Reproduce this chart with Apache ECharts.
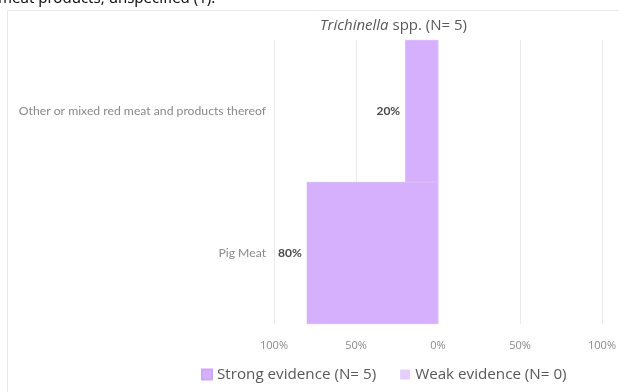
<!DOCTYPE html>
<html><head><meta charset="utf-8">
<script src="https://cdn.jsdelivr.net/npm/echarts@6/dist/echarts.min.js"></script>
<style>html,body{margin:0;padding:0;background:#fff}#c{width:619px;height:392px}</style>
</head><body><div id="c"></div>
<script>
var categories = ['Other or mixed red meat and products thereof', 'Pig Meat'];
var strongValues = [20, 80];
var weakValues = [0, 0];
var tickLabels = ['100%', '50%', '0%', '50%', '100%'];
var seriesNames = ['Strong evidence (N= 5)', 'Weak evidence (N= 0)'];

var chart = echarts.init(document.getElementById('c'), null, {renderer: 'canvas'});
chart.setOption({
  backgroundColor: '#fff',
  animation: false,
  graphic: [
    {type: 'rect', shape: {x: 7.5, y: 10.5, width: 640, height: 400}, style: {fill: 'none', stroke: '#e8e8e8', lineWidth: 1}},
    {type: 'text', left: -2, top: -9, style: {text: 'meat products, unspecified (1).', font: '15px "Noto Sans"', fill: '#111'}}
  ],
  title: {
    text: '{i|Trichinella} spp. (N= 5)',
    left: 315, top: 13,
    textStyle: {
      fontFamily: 'Open Sans', fontSize: 15, fontWeight: 'normal', color: '#595959',
      rich: {i: {fontFamily: 'Open Sans', fontSize: 15, fontStyle: 'italic', color: '#595959'}}
    }
  },
  legend: {
    bottom: 5, left: 196,
    itemWidth: 10, itemHeight: 10, itemGap: 24,
    icon: 'rect',
    textStyle: {fontFamily: 'Open Sans', fontSize: 15.2, color: '#595959'},
    data: seriesNames
  },
  grid: {left: 274, right: 12, top: 40, bottom: 68, containLabel: false},
  xAxis: {
    type: 'value', min: -100, max: 100, interval: 50,
    axisLine: {show: false}, axisTick: {show: false},
    splitLine: {lineStyle: {color: '#ebebeb'}},
    axisLabel: {
      fontFamily: 'Open Sans', fontSize: 11, color: '#8a8a8a', margin: 16,
      formatter: function (v) { return tickLabels[Math.round((v + 100) / 50)]; }
    }
  },
  yAxis: {
    type: 'category', inverse: true, data: categories,
    axisLine: {show: false}, axisTick: {show: false},
    axisLabel: {fontFamily: 'Lato', fontSize: 12.2, color: '#8a8a8a', margin: 8}
  },
  series: [
    {
      name: seriesNames[0], type: 'bar', stack: 'a', barWidth: '100%',
      data: strongValues.map(function (v) { return -v; }),
      itemStyle: {color: '#d6b0fc', borderColor: '#cfa8f5', borderWidth: 0.5},
      label: {
        show: true, position: 'left', distance: 5,
        fontFamily: 'Lato', fontSize: 12, fontWeight: 'bold', color: '#4a4a4a',
        formatter: function (p) { return Math.abs(p.value) + '%'; }
      }
    },
    {
      name: seriesNames[1], type: 'bar', stack: 'a', barWidth: '100%',
      data: weakValues.map(function (v) { return -v; }),
      itemStyle: {color: '#e6cffc'}
    }
  ]
});
</script></body></html>
